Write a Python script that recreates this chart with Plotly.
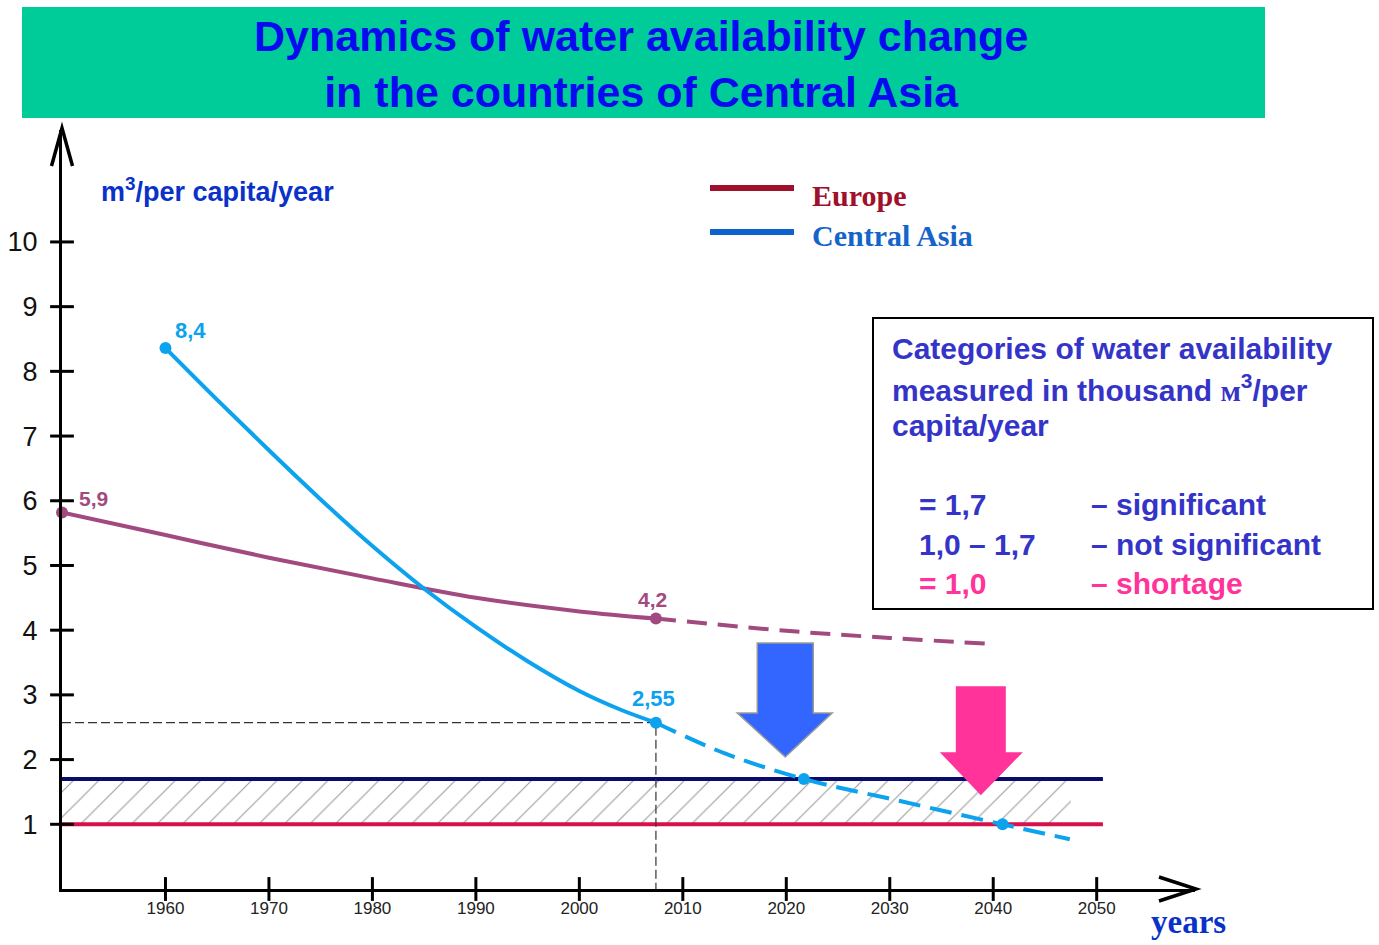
import plotly.graph_objects as go

# ---------------- data ----------------
x_ticks = [1960, 1970, 1980, 1990, 2000, 2010, 2020, 2030, 2040, 2050]
y_ticks = [1, 2, 3, 4, 5, 6, 7, 8, 9, 10]

eu_years = [1950, 1960, 1970, 1980, 1990, 2000, 2007.4]
eu_vals = [5.82, 5.47, 5.12, 4.80, 4.50, 4.29, 4.18]
eu_fc_years = [2007.4, 2020, 2030, 2039.5]
eu_fc_vals = [4.18, 3.99, 3.88, 3.79]

ca_years = [1960, 1965, 1970, 1975, 1980, 1985, 1990, 1995, 2000, 2004, 2007.4]
ca_vals = [8.36, 7.56, 6.78, 6.02, 5.30, 4.64, 4.05, 3.52, 3.06, 2.77, 2.57]
ca_fc_years = [2007.4, 2014, 2021.7, 2031, 2040.9, 2047.4]
ca_fc_vals = [2.57, 2.10, 1.70, 1.36, 1.00, 0.77]

eu_pt_years = [1950, 2007.4]
eu_pt_vals = [5.82, 4.18]
eu_pt_labels = ["5,9", "4,2"]
ca_pt_years = [1960, 2007.4, 2021.7, 2040.9]
ca_pt_vals = [8.36, 2.57, 1.70, 1.00]
ca_pt_labels = ["8,4", "2,55", "", ""]

thr_years = [1950, 2050.6]
thr_significant = 1.7
thr_shortage = 1.0
hatch_years = [1950, 2047.5]

ref_year = 2007.4
ref_val = 2.57

arrow_years = [2019.9, 2038.8]
arrow_vals = [2.04, 1.45]

# ---------------- layout geometry ----------------
W, H = 1379, 945
L, R, T, B = 62, 184, 130, 56
X0, X1 = 1950, 2059.5
Y0, Y1 = 0, 11.73
PW = W - L - R
PH = H - T - B


def px(x):
    return (x - L) / PW


def py(y):
    return (H - B - y) / PH


EU_C = "#A24A80"
CA_C = "#0CA2EE"
SANS = "Liberation Sans, Arial, sans-serif"
NARROW = "Liberation Sans Narrow, Arial Narrow, Liberation Sans, sans-serif"
SERIF = "Liberation Serif, Times New Roman, serif"

fig = go.Figure()

# hatch between 1.0 and 1.7
fig.add_trace(go.Scatter(x=hatch_years, y=[thr_shortage] * 2, mode="lines",
                         line=dict(width=0), showlegend=False, hoverinfo="skip"))
fig.add_trace(go.Scatter(x=hatch_years, y=[thr_significant] * 2, mode="lines",
                         line=dict(width=0), fill="tonexty",
                         fillcolor="rgba(0,0,0,0)",
                         fillpattern=dict(shape="/", size=18, solidity=0.06,
                                          fgcolor="#9a9a9a", fgopacity=1),
                         showlegend=False, hoverinfo="skip"))

# threshold lines
fig.add_trace(go.Scatter(x=thr_years, y=[thr_significant] * 2, mode="lines",
                         line=dict(color="#0B0B6E", width=4), showlegend=False))
fig.add_trace(go.Scatter(x=thr_years, y=[thr_shortage] * 2, mode="lines",
                         line=dict(color="#D6104C", width=4), showlegend=False))

# reference dashed guide
fig.add_trace(go.Scatter(x=[X0, ref_year, ref_year], y=[ref_val, ref_val, 0], mode="lines",
                         line=dict(color="#333333", width=1.2, dash="9px,4px"),
                         showlegend=False))

# Europe
fig.add_trace(go.Scatter(x=eu_years, y=eu_vals, mode="lines",
                         line=dict(color=EU_C, width=4, shape="spline"),
                         showlegend=False))
fig.add_trace(go.Scatter(x=eu_fc_years, y=eu_fc_vals, mode="lines",
                         line=dict(color=EU_C, width=4, shape="spline", dash="20px,11px"),
                         showlegend=False))
# Central Asia
fig.add_trace(go.Scatter(x=ca_years, y=ca_vals, mode="lines",
                         line=dict(color=CA_C, width=4, shape="spline"),
                         showlegend=False))
fig.add_trace(go.Scatter(x=ca_fc_years, y=ca_fc_vals, mode="lines",
                         line=dict(color=CA_C, width=4, shape="spline", dash="22px,10px"),
                         showlegend=False))

# markers
fig.add_trace(go.Scatter(x=eu_pt_years, y=eu_pt_vals, mode="markers",
                         marker=dict(color=EU_C, size=12), cliponaxis=False,
                         showlegend=False))
fig.add_trace(go.Scatter(x=ca_pt_years, y=ca_pt_vals, mode="markers",
                         marker=dict(color=CA_C, size=12), cliponaxis=False,
                         showlegend=False))

# crossing tick marks
fig.add_trace(go.Scatter(x=x_ticks, y=[Y0] * len(x_ticks), mode="markers",
                         marker=dict(symbol="line-ns", size=17,
                                     line=dict(color="black", width=3)),
                         cliponaxis=False, showlegend=False))
fig.add_trace(go.Scatter(x=[X0] * len(y_ticks), y=y_ticks, mode="markers",
                         marker=dict(symbol="line-ew", size=17,
                                     line=dict(color="black", width=3)),
                         cliponaxis=False, showlegend=False))

annotations = []
# point labels
eu_off = [(31, 14), (-3, 19)]
for (xx, yy, t, (dx, dy)) in zip(eu_pt_years, eu_pt_vals, eu_pt_labels, eu_off):
    annotations.append(dict(x=xx, y=yy, xref="x", yref="y", text="<b>%s</b>" % t,
                            showarrow=False, xshift=dx, yshift=dy,
                            font=dict(family=SANS, size=21, color=EU_C)))
ca_off = [(25, 18), (-2, 24), (0, 0), (0, 0)]
for (xx, yy, t, (dx, dy)) in zip(ca_pt_years, ca_pt_vals, ca_pt_labels, ca_off):
    if t:
        annotations.append(dict(x=xx, y=yy, xref="x", yref="y", text="<b>%s</b>" % t,
                                showarrow=False, xshift=dx, yshift=dy,
                                font=dict(family=SANS, size=22, color=CA_C)))

# title
annotations.append(dict(x=px(641), y=py(64), xref="paper", yref="paper",
                        text="<b>Dynamics of water availability change<br>in the countries of Central Asia</b>",
                        showarrow=False, xanchor="center", yanchor="middle",
                        font=dict(family=NARROW, size=43, color="#0A0AF0")))
# y-axis unit label
annotations.append(dict(x=px(99), y=py(190), xref="paper", yref="paper",
                        text="<b>m<sup>3</sup>/per capita/year</b>", showarrow=False,
                        xanchor="left", yanchor="middle",
                        font=dict(family=SANS, size=27, color="#0A32C8")))
# legend texts
annotations.append(dict(x=px(810), y=py(195), xref="paper", yref="paper",
                        text="<b>Europe</b>", showarrow=False, xanchor="left", yanchor="middle",
                        font=dict(family=SERIF, size=30, color="#A0102A")))
annotations.append(dict(x=px(810), y=py(235), xref="paper", yref="paper",
                        text="<b>Central Asia</b>", showarrow=False, xanchor="left", yanchor="middle",
                        font=dict(family=SERIF, size=30, color="#1565C8")))
# categories box text
BOX_C = "#3434C8"
PINK = "#FF3399"
for t, yy in [("Categories of water availability", 348),
              ("measured in thousand <span style='font-family:Liberation Serif'>м</span><sup>3</sup>/per", 388),
              ("capita/year", 425)]:
    annotations.append(dict(x=px(890), y=py(yy), xref="paper", yref="paper",
                            text="<b>%s</b>" % t, showarrow=False, xanchor="left", yanchor="middle",
                            font=dict(family=SANS, size=30, color=BOX_C)))
for left, right, yy, col in [("= 1,7", "– significant", 504, BOX_C),
                             ("1,0 – 1,7", "– not significant", 544, BOX_C),
                             ("= 1,0", "– shortage", 583, PINK)]:
    annotations.append(dict(x=px(917), y=py(yy), xref="paper", yref="paper",
                            text="<b>%s</b>" % left, showarrow=False, xanchor="left", yanchor="middle",
                            font=dict(family=SANS, size=30, color=col)))
    annotations.append(dict(x=px(1089), y=py(yy), xref="paper", yref="paper",
                            text="<b>%s</b>" % right, showarrow=False, xanchor="left", yanchor="middle",
                            font=dict(family=SANS, size=30, color=col)))
# years label
annotations.append(dict(x=px(1149), y=py(922), xref="paper", yref="paper",
                        text="<b>years</b>", showarrow=False, xanchor="left", yanchor="middle",
                        font=dict(family=SERIF, size=33, color="#0A32C8")))

shapes = []
# title box
shapes.append(dict(type="rect", xref="paper", yref="paper", layer="below",
                   x0=px(22), x1=px(1265), y0=py(118), y1=py(7),
                   fillcolor="#00CC99", line=dict(width=0)))
# categories box
shapes.append(dict(type="rect", xref="paper", yref="paper",
                   x0=px(873), x1=px(1373), y0=py(609), y1=py(318),
                   fillcolor="rgba(0,0,0,0)", line=dict(color="black", width=2)))
# legend lines
shapes.append(dict(type="line", xref="paper", yref="paper",
                   x0=px(710), x1=px(794), y0=py(188), y1=py(188),
                   line=dict(color="#A0102A", width=6)))
shapes.append(dict(type="line", xref="paper", yref="paper",
                   x0=px(710), x1=px(794), y0=py(232), y1=py(232),
                   line=dict(color="#0D63CC", width=6)))
# axis arrow heads
shapes.append(dict(type="path", xref="paper", yref="paper", xsizemode="pixel", ysizemode="pixel",
                   xanchor=1, yanchor=0, path="M -36,12 L 1,0 L -36,-12",
                   line=dict(color="black", width=3.5)))
shapes.append(dict(type="path", xref="paper", yref="paper", xsizemode="pixel", ysizemode="pixel",
                   xanchor=0, yanchor=1, path="M -10.5,-36 L 0,2 L 10.5,-36",
                   line=dict(color="black", width=3.5)))
# block arrows
shapes.append(dict(type="path", xref="x", yref="y", xsizemode="pixel", ysizemode="pixel",
                   xanchor=arrow_years[0], yanchor=arrow_vals[0],
                   path="M 0,0 L 47,44 L 28,44 L 28,114 L -28,114 L -28,44 L -48,44 Z",
                   fillcolor="#3366FF", line=dict(color="#9a9a9a", width=1.5)))
shapes.append(dict(type="path", xref="x", yref="y", xsizemode="pixel", ysizemode="pixel",
                   xanchor=arrow_years[1], yanchor=arrow_vals[1],
                   path="M 0,0 L 42,43 L 25,43 L 25,109 L -25,109 L -25,43 L -41,43 Z",
                   fillcolor="#FF3399", line=dict(width=0)))

fig.update_layout(
    width=W, height=H,
    margin=dict(l=L, r=R, t=T, b=B, autoexpand=False),
    paper_bgcolor="white", plot_bgcolor="white",
    showlegend=False, hovermode=False,
    annotations=annotations, shapes=shapes,
    xaxis=dict(range=[X0, X1], showgrid=False, zeroline=False, showline=True,
               linecolor="black", linewidth=3, tickvals=x_ticks,
               ticktext=[str(v) for v in x_ticks], ticks="",
               ticklabelstandoff=2,
               tickfont=dict(family=NARROW, size=17, color="#222222"),
               automargin=False, fixedrange=True),
    yaxis=dict(range=[Y0, Y1], showgrid=False, zeroline=False, showline=True,
               linecolor="black", linewidth=3, tickvals=y_ticks,
               ticktext=[str(v) for v in y_ticks], ticks="",
               ticklabelstandoff=16,
               tickfont=dict(family=SANS, size=27, color="#111111"),
               automargin=False, fixedrange=True),
)

fig.write_html("out.html", config={"displayModeBar": False},
               post_script="document.body.style.margin='0px';document.body.style.overflow='hidden';")
